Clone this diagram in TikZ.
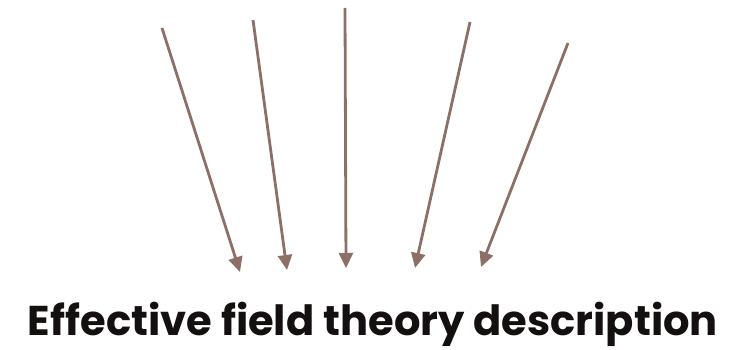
\documentclass[tikz,border=0pt]{standalone}
\usepackage{fontspec}
\setmainfont{Poppins}[BoldFont={Poppins Bold}]
\usetikzlibrary{arrows.meta}
\definecolor{arrowbrown}{HTML}{8C7068}
\definecolor{textdark}{HTML}{141010}
\tikzset{
  ray/.style={draw=arrowbrown, line width=2.8pt, -{Triangle[length=15pt,width=14pt]}},
  caption/.style={inner sep=0pt, text=textdark, font=\bfseries}
}
\begin{document}
\begin{tikzpicture}[x=1pt,y=-1pt]
\useasboundingbox (0,0) rectangle (740,350);
\coordinate (s1) at (162,28);
\coordinate (s2) at (253,20);
\coordinate (s3) at (345,8);
\coordinate (s4) at (470,22);
\coordinate (s5) at (568,43);
\coordinate (e1) at (240,272);
\coordinate (e2) at (287,270);
\coordinate (e3) at (346,268);
\coordinate (e4) at (415,268);
\coordinate (e5) at (481,267);
\foreach \i in {1,...,5} \draw[ray] (s\i) -- (e\i);
\node[caption, anchor=base] (label) at (373,336) {\resizebox{690pt}{!}{\fontsize{40}{44}\selectfont Effective field theory description}};
\end{tikzpicture}
\end{document}
